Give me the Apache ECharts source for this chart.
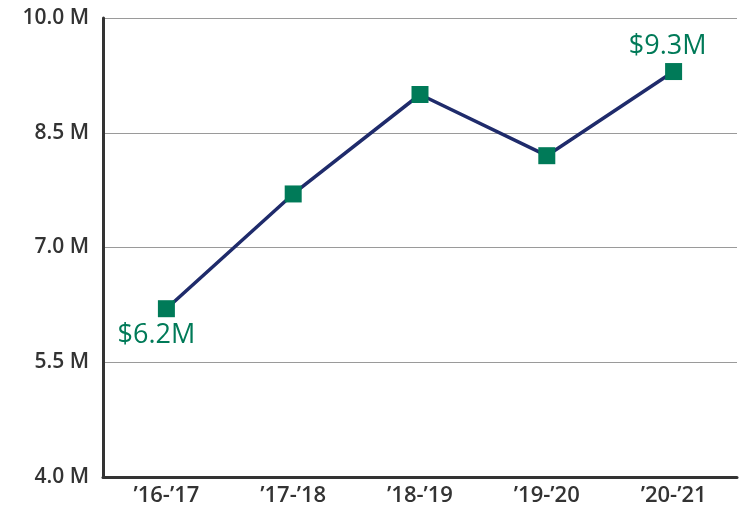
<!DOCTYPE html>
<html>
<head>
<meta charset="utf-8">
<script src="https://cdn.jsdelivr.net/npm/echarts@6/dist/echarts.min.js"></script>
<style>
  html, body { margin: 0; padding: 0; background: #fff; }
  #chart { width: 749px; height: 512px; }
</style>
</head>
<body>
<div id="chart"></div>
<script>
var years = ['’16-’17', '’17-’18', '’18-’19', '’19-’20', '’20-’21'];
var revenue = [6.2, 7.7, 9.0, 8.2, 9.3];
var yTicks = [4.0, 5.5, 7.0, 8.5, 10.0];

var chart = echarts.init(document.getElementById('chart'));

var lineColor = '#1f2b6b',
  dotColor = '#007a58',
  textColor = '#333333';

// only first and last points get a label
var points = revenue.map(function (v, i) {
  var item = { value: v };
  if (i === 0) {
    item.label = { show: true, position: 'bottom', offset: [-10, 0] };
  } else if (i === revenue.length - 1) {
    item.label = { show: true, position: 'top', offset: [-6, 2] };
  }
  return item;
});

var option = {
  animation: false,
  grid: { left: 103, right: 12, top: 18, bottom: 35 },
  xAxis: {
    type: 'category',
    data: years,
    axisLine: { lineStyle: { color: textColor, width: 3 } },
    axisTick: { show: false },
    axisLabel: {
      color: textColor,
      fontFamily: 'Open Sans',
      fontSize: 22,
      fontWeight: 600,
      margin: 8
    }
  },
  yAxis: {
    type: 'value',
    min: yTicks[0],
    max: yTicks[yTicks.length - 1],
    interval: 1.5,
    axisLine: { show: true, lineStyle: { color: textColor, width: 3 } },
    axisTick: { show: false },
    splitLine: { lineStyle: { color: '#9a9a9a', width: 1.2 } },
    axisLabel: {
      color: textColor,
      fontFamily: 'Open Sans',
      fontSize: 21,
      fontWeight: 600,
      margin: 14,
      formatter: function (v) {
        return v.toFixed(1) + ' M';
      }
    }
  },
  series: [{
    type: 'line',
    data: points,
    symbol: 'rect',
    symbolSize: 17,
    lineStyle: { color: lineColor, width: 3.5 },
    itemStyle: { color: dotColor },
    label: {
      show: false,
      color: dotColor,
      fontFamily: 'Open Sans',
      fontSize: 27,
      formatter: function (p) {
        return '$' + p.value.toFixed(1) + 'M';
      }
    },
    z: 3
  }]
};

chart.setOption(option);
</script>
</body>
</html>
